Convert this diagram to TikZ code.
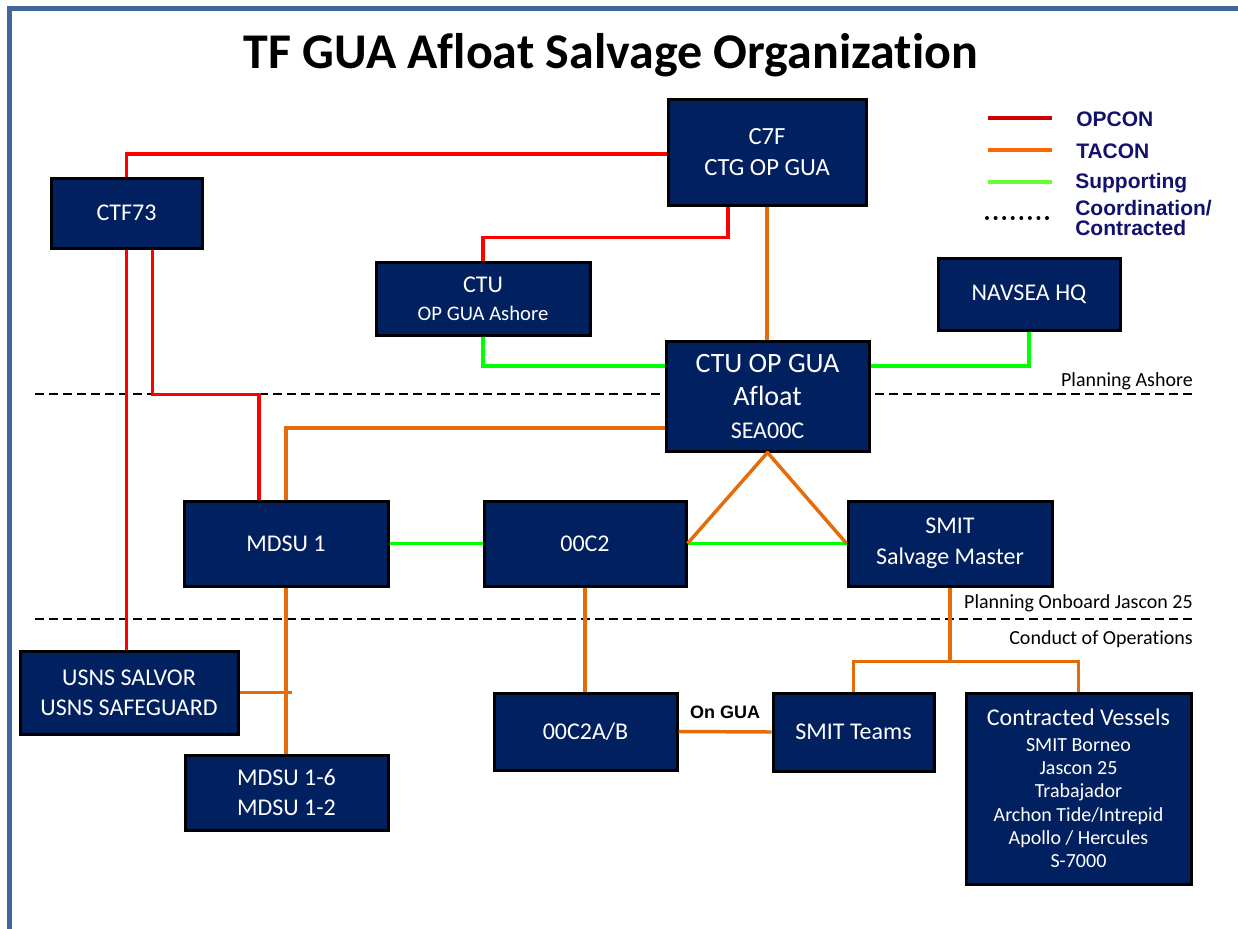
\documentclass[tikz,border=0pt]{standalone}
\usepackage{fontspec}
\setmainfont{Carlito}[Ligatures=NoCommon]
\newfontfamily\legfont{Liberation Sans}
\usetikzlibrary{calc,shadows}
\definecolor{navy}{RGB}{0,32,96}
\definecolor{framecol}{RGB}{65,103,154}
\definecolor{opred}{RGB}{255,0,0}
\definecolor{taorange}{RGB}{228,108,10}
\definecolor{supgreen}{RGB}{0,255,0}
\definecolor{legred}{RGB}{204,0,0}
\definecolor{legorange}{RGB}{255,102,0}
\definecolor{leggreen}{RGB}{102,255,51}
\definecolor{legtext}{RGB}{18,18,110}
\begin{document}
\begin{tikzpicture}[x=0.75pt,y=-0.75pt,
 orgbox/.style={draw=black, line width=2.25pt, fill=navy, text=white, align=center, inner sep=0pt,
   drop shadow={shadow xshift=1.2pt,shadow yshift=-1.2pt,opacity=0.25}},
 opcon/.style={draw=opred, line width=2.6pt},
 tacon/.style={draw=taorange, line width=2.6pt},
 support/.style={draw=supgreen, line width=2.6pt},
 phase/.style={draw=black, line width=1.5pt, dash pattern=on 6.75pt off 3.75pt},
 phaselabel/.style={anchor=east, inner sep=0pt, font=\fontsize{15}{18}\selectfont},
 legline/.style={line width=3pt},
 legtxt/.style={anchor=west, inner sep=0pt, text=legtext, font=\legfont\bfseries\fontsize{15.75}{14}\selectfont},
 ongua/.style={inner sep=0pt, font=\legfont\bfseries\fontsize{13.5}{14}\selectfont},
]
\useasboundingbox (0,0) rectangle (1238,928);
\clip (0,0) rectangle (1238,928);
\fill[white] (0,0) rectangle (1238,928);
\draw[framecol, line width=3.75pt] (9.5,8.5) rectangle (1300,1000);

% title
\node[anchor=base, inner sep=0pt, font=\bfseries\fontsize{37.5}{40}\selectfont] (title) at (611,68) {TF GUA Afloat Salvage Organization};

% phase separators
\coordinate (pa1) at (35,394); \coordinate (pa2) at (1193,394);
\coordinate (pb1) at (35,619); \coordinate (pb2) at (1193,619);
\draw[phase] (pa1) -- (pa2);
\draw[phase] (pb1) -- (pb2);
\node[phaselabel] (lblA) at (1193,381) {Planning Ashore};
\node[phaselabel] (lblB) at (1193,603) {Planning Onboard Jascon 25};
\node[phaselabel] (lblC) at (1193,639) {Conduct of Operations};

% boxes
\node[orgbox, minimum width=148.5pt, minimum height=79.5pt, font=\fontsize{18.5}{23.25}\selectfont] (c7f) at (767,152) {C7F\\CTG OP GUA};
\node[orgbox, minimum width=113.25pt, minimum height=52.5pt, font=\fontsize{18}{20}\selectfont] (ctf) at (126.5,213) {CTF73};
\node[orgbox, minimum width=160.5pt, minimum height=54.75pt, font=\fontsize{15.5}{21}\selectfont] (ctu) at (483,298.5) {{\fontsize{18}{21}\selectfont CTU}\\OP GUA Ashore};
\node[orgbox, minimum width=136.5pt, minimum height=54pt, font=\fontsize{18}{20}\selectfont] (nav) at (1029,294) {NAVSEA HQ};
\node[orgbox, minimum width=152.25pt, minimum height=82.5pt, font=\fontsize{21}{24.75}\selectfont] (afl) at (767.5,396) {CTU OP GUA\\Afloat\\{\fontsize{18}{24.75}\selectfont SEA00C}};
\node[orgbox, minimum width=153pt, minimum height=63.75pt, font=\fontsize{18}{20}\selectfont] (mdsu) at (286,543.5) {MDSU 1};
\node[orgbox, minimum width=151.5pt, minimum height=63.75pt, font=\fontsize{18}{20}\selectfont] (c2) at (585,543.5) {00C2};
\node[orgbox, minimum width=153pt, minimum height=63.75pt, font=\fontsize{18}{23.25}\selectfont] (smit) at (950,543.5) {SMIT\\Salvage Master};
\node[orgbox, minimum width=163.5pt, minimum height=62.25pt, font=\fontsize{18}{22.5}\selectfont] (usns) at (129,692.5) {USNS SALVOR\\USNS SAFEGUARD};
\node[orgbox, minimum width=152.25pt, minimum height=56.25pt, font=\fontsize{18}{22}\selectfont] (m16) at (286.5,792.5) {MDSU 1-6\\MDSU 1-2};
\node[orgbox, minimum width=137.25pt, minimum height=57.75pt, font=\fontsize{18}{20}\selectfont] (c2ab) at (585.5,731.5) {00C2A/B};
\node[orgbox, minimum width=120.75pt, minimum height=58.5pt, font=\fontsize{18}{20}\selectfont] (teams) at (853.5,732) {SMIT Teams};
\node[orgbox, minimum width=168.75pt, minimum height=143.25pt, font=\fontsize{15}{17.5}\selectfont] (cv) at (1078.5,788.5) {{\fontsize{18}{20}\selectfont Contracted Vessels}\\[1.5pt]SMIT Borneo\\Jascon 25\\Trabajador\\Archon Tide/Intrepid\\Apollo / Hercules\\S-7000};

% OPCON
\draw[opcon] (c7f.west) ++(0,2) -| (ctf.north);
\draw[opcon] ($(c7f.south)+(-39,0)$) -- ++(0,31) -| (ctu.north);
\draw[opcon] (ctf.south) -- (ctf.south |- usns.north);
\draw[opcon] ($(ctf.south)+(26,0)$) -- ++(0,145) -| ($(mdsu.north)+(-27,0)$);

% Supporting
\draw[support] (ctu.south) |- ($(afl.west)+(0,-30)$);
\draw[support] ($(afl.east)+(0,-30)$) -| (nav.south);
\draw[support] (mdsu.east) -- (c2.west);
\draw[support] (c2.east) -- (smit.west);

% TACON
\draw[tacon] (c7f.south) -- (c7f.south |- afl.north);
\draw[tacon] ($(afl.west)+(0,32)$) -| (mdsu.north);
\draw[tacon, line join=round] (c2.east) -- (afl.south) -- (smit.west);
\draw[tacon] (mdsu.south) -- (mdsu.south |- m16.north);
\draw[tacon] (usns.east) -- ($(usns.east -| mdsu.south)+(6,0)$);
\draw[tacon] (c2.south) -- (c2.south |- c2ab.north);
\draw[tacon] (c2ab.east) -- (teams.west);
\node[ongua] (onGUA) at ($(c2ab.east)!0.5!(teams.west)+(0,-19)$) {On GUA};
\draw[tacon] (smit.south) -- ($(smit.south)+(0,74)$) coordinate (split);
\draw[tacon] (teams.north) |- (split) -| (cv.north);

% legend
\coordinate (l1a) at (988,118); \coordinate (l1b) at (1052,118);
\coordinate (l2a) at (988,150); \coordinate (l2b) at (1052,150);
\coordinate (l3a) at (988,182); \coordinate (l3b) at (1052,182);
\coordinate (l4a) at (987,218); \coordinate (l4b) at (1047.2,218);
\draw[legline, legred] (l1a) -- (l1b);
\draw[legline, legorange] (l2a) -- (l2b);
\draw[legline, leggreen] (l3a) -- (l3b);
\draw[line width=3pt, line cap=round, dash pattern=on 0pt off 6.43pt] (l4a) -- (l4b);
\node[legtxt] (tOP) at (1076,119) {OPCON};
\node[legtxt] (tTA) at (1076,151) {TACON};
\node[legtxt] (tSU) at (1075,183) {Supporting};
\node[legtxt, align=left, font=\legfont\bfseries\fontsize{15.75}{15}\selectfont] (tCO) at (1075,218) {Coordination/\\Contracted};
\end{tikzpicture}
\end{document}
